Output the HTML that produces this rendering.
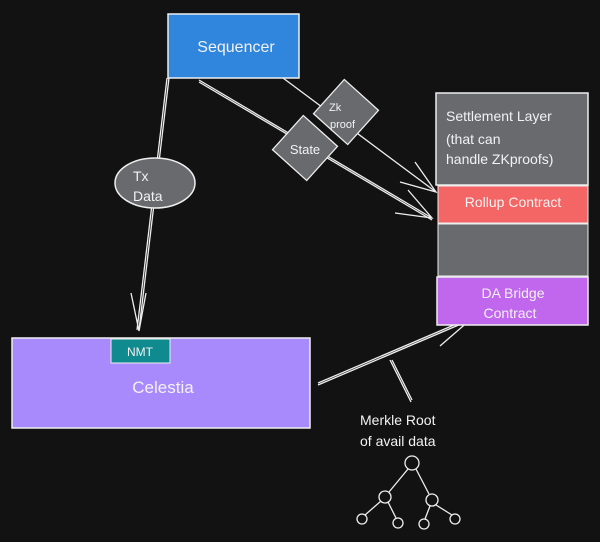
<!DOCTYPE html>
<html><head><style>
html,body{margin:0;padding:0;background:#121212;}
svg{display:block}
text{font-family:"Liberation Sans",sans-serif;fill:#f2f2f2}
</style></head><body>
<svg width="600" height="542" viewBox="0 0 600 542">
<rect width="600" height="542" fill="#121212"/>
<g stroke="#eee" stroke-width="1.3" fill="none">
<line x1="169" y1="78" x2="139" y2="330"/>
<line x1="167" y1="78" x2="137" y2="330"/>
<polyline points="131,293 139,331 146,293"/>
<line x1="199" y1="80" x2="432" y2="218"/>
<line x1="199" y1="82" x2="432" y2="220"/>
<polyline points="395,213 432,218 408,190"/>
<line x1="283" y1="78" x2="436" y2="192"/>
<polyline points="400,182 436,192 415,162"/>
<line x1="318" y1="383" x2="468" y2="319"/>
<line x1="318" y1="385" x2="468" y2="321"/>
<line x1="470" y1="320" x2="440" y2="346"/>
<line x1="390" y1="360" x2="411" y2="402"/>
<line x1="392" y1="360" x2="412" y2="400"/>
</g>
<rect x="168" y="14" width="131" height="64" fill="#2f86dc" stroke="#eee" stroke-width="1.5"/>
<text x="236" y="52" font-size="16" text-anchor="middle">Sequencer</text>
<rect x="436" y="93" width="152" height="92" fill="#686a6e" stroke="#eee" stroke-width="1.5"/>
<rect x="438" y="186" width="150" height="37" fill="#f46666" stroke="#eee"/>
<rect x="438" y="224" width="150" height="52" fill="#686a6e" stroke="#eee"/>
<rect x="437" y="277" width="151" height="48" fill="#c067ee" stroke="#eee" stroke-width="1.5"/>
<text x="446" y="121" font-size="14">Settlement Layer</text>
<text x="446" y="144" font-size="14">(that can</text>
<text x="446" y="164" font-size="14">handle ZKproofs)</text>
<text x="513" y="207" font-size="14" text-anchor="middle">Rollup Contract</text>
<text x="513" y="298" font-size="14" text-anchor="middle">DA Bridge</text>
<text x="510" y="318" font-size="14" text-anchor="middle">Contract</text>
<rect x="12" y="338" width="298" height="90" fill="#a98afc" stroke="#eee" stroke-width="1.5"/>
<rect x="111" y="339" width="59" height="24" fill="#0f8a8f" stroke="#eee"/>
<text x="140" y="356" font-size="12" text-anchor="middle">NMT</text>
<text x="163" y="393" font-size="17" text-anchor="middle">Celestia</text>
<ellipse cx="155" cy="183" rx="40" ry="25" fill="#686a6e" stroke="#eee" stroke-width="1.5"/>
<text x="133" y="181" font-size="14">Tx</text>
<text x="133" y="201" font-size="14">Data</text>
<rect x="-23" y="-23" width="46" height="46" transform="translate(346,112) rotate(42)" fill="#686a6e" stroke="#eee" stroke-width="1.3"/>
<text x="329" y="111" font-size="11">Zk</text>
<text x="330" y="128" font-size="11">proof</text>
<rect x="-23" y="-23" width="46" height="46" transform="translate(305,148) rotate(42)" fill="#686a6e" stroke="#eee" stroke-width="1.3"/>
<text x="305" y="154" font-size="13" text-anchor="middle">State</text>
<text x="360" y="425" font-size="14">Merkle Root</text>
<text x="360" y="446" font-size="14">of avail data</text>
<g stroke="#eee" stroke-width="1.3" fill="none">
<circle cx="412" cy="463" r="7"/>
<circle cx="385" cy="497" r="6"/>
<circle cx="432" cy="500" r="6"/>
<circle cx="362" cy="519" r="5"/>
<circle cx="398" cy="523" r="5"/>
<circle cx="424" cy="524" r="5"/>
<circle cx="455" cy="519" r="5"/>
<line x1="408" y1="469" x2="389" y2="492"/>
<line x1="416" y1="469" x2="429" y2="494"/>
<line x1="381" y1="501" x2="365" y2="515"/>
<line x1="388" y1="502" x2="396" y2="518"/>
<line x1="430" y1="506" x2="425" y2="519"/>
<line x1="436" y1="505" x2="452" y2="515"/>
</g>
</svg>
</body></html>
